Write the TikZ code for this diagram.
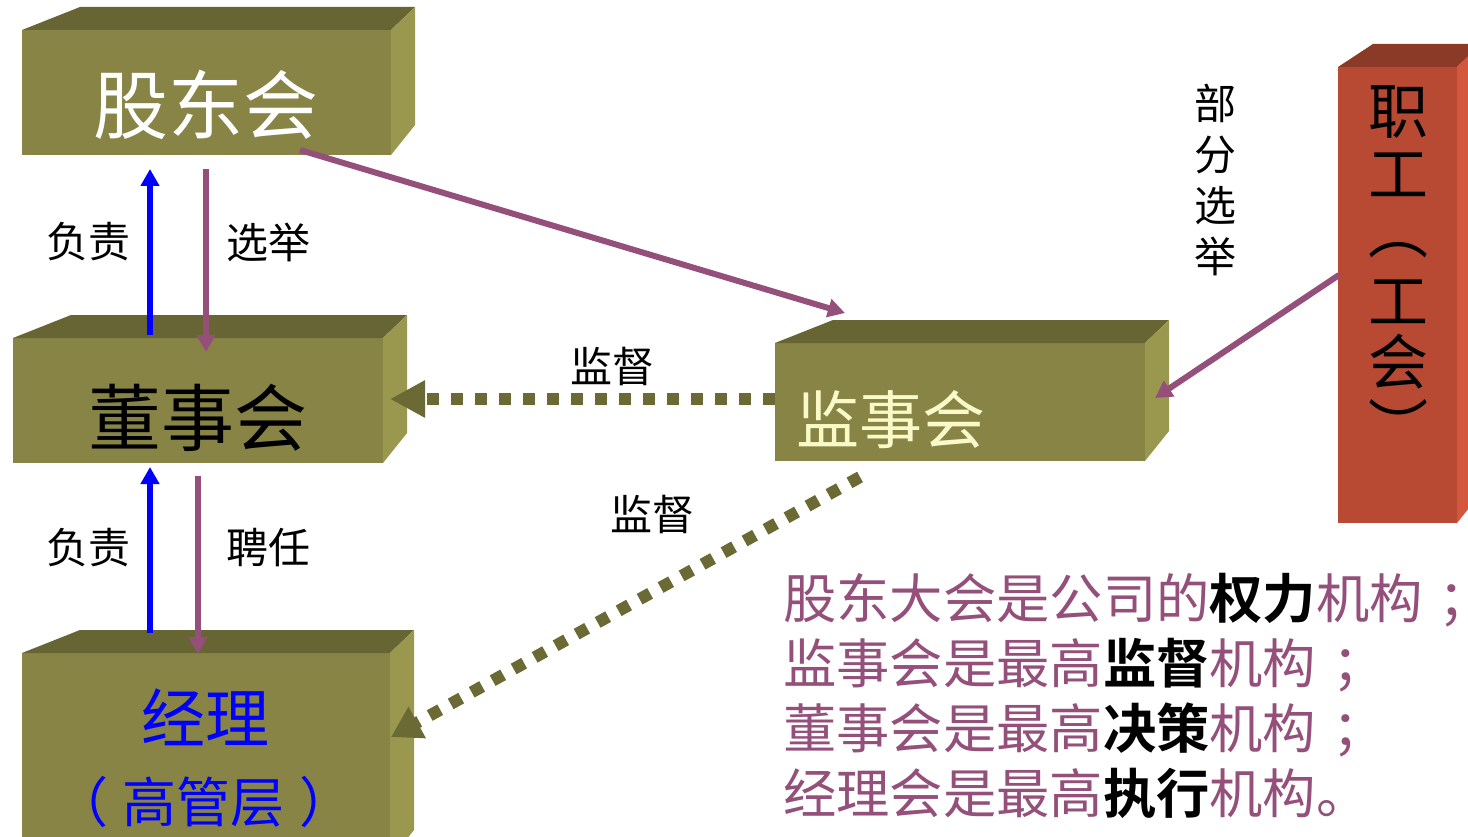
\documentclass[tikz,border=0pt]{standalone}
\usepackage{fontspec}
\setmainfont{Noto Sans CJK SC}[BoldFont={Noto Sans CJK SC Bold}]
\usetikzlibrary{arrows.meta,calc}
\definecolor{olfront}{HTML}{878446}
\definecolor{oltop}{HTML}{676534}
\definecolor{olside}{HTML}{9A984E}
\definecolor{rdfront}{HTML}{B84A34}
\definecolor{rdtop}{HTML}{8C3A28}
\definecolor{rdside}{HTML}{D4563C}
\definecolor{pur}{HTML}{94507A}
\definecolor{dotc}{HTML}{6B6A35}
\definecolor{lightyel}{HTML}{FAFAC8}
\newcommand\olcube[1]{%
  \fill[oltop] (#1.north west) -- ++(58,-23) -- ($(#1.north east)+(24,-23)$) -- (#1.north east) -- cycle;
  \fill[olside] (#1.north east) -- ++(24,-23) -- ($(#1.south east)+(24,-30)$) -- (#1.south east) -- cycle;}
\newcommand\semi{\hspace{0.3em}\makebox[0.4em][l]{；}}
\begin{document}
\begin{tikzpicture}[x=1pt,y=-1pt,
  face/.style={rectangle,inner sep=0pt,outer sep=0pt,draw=none},
  olface/.style={face,fill=olfront},
  lbl/.style={inner sep=0pt,font=\fontsize{42}{42}\selectfont},
  vch/.style={inner sep=0pt,font=\fontsize{60}{60}\selectfont},
  bluearrow/.style={draw=blue,line width=6pt,-{Triangle[length=17pt,width=18pt]}},
  purarrow/.style={draw=pur,line width=6pt,-{Triangle[length=17pt,width=18pt]}},
  dotarrow/.style={draw=dotc,line width=12pt,dash pattern=on 12pt off 12pt},
  stmt/.style={anchor=west,inner sep=0pt,text=pur,font=\fontsize{53.3}{53.3}\selectfont}]
\clip (0,0) rectangle (1468,837);
\fill[white] (0,0) rectangle (1468,837);
% boxes
\node[olface,minimum width=369pt,minimum height=125pt] (gd) at (206.5,92.5) {};
\olcube{gd}
\node[olface,minimum width=370pt,minimum height=125pt] (dsh) at (198,400.5) {};
\olcube{dsh}
\node[olface,minimum width=368pt,minimum height=207pt] (jl) at (206,756.5) {};
\olcube{jl}
\node[olface,minimum width=370pt,minimum height=118pt] (jsh) at (960,402) {};
\olcube{jsh}
\node[face,fill=rdfront,minimum width=119pt,minimum height=456pt] (zg) at (1397.5,295) {};
\fill[rdtop] (zg.north west) -- ++(35,-23) -- ($(zg.north east)+(24,-23)$) -- (zg.north east) -- cycle;
\fill[rdside] (zg.north east) -- ++(24,-23) -- ($(zg.south east)+(24,-30)$) -- (zg.south east) -- cycle;
% box texts
\node[inner sep=0pt,text=white,font=\fontsize{75}{75}\selectfont] (gdt) at (206,105) {股东会};
\node[inner sep=0pt,text=black,font=\fontsize{73}{73}\selectfont] (dsht) at (198,418) {董事会};
\node[inner sep=0pt,text=blue,font=\fontsize{64}{64}\selectfont] (jlt) at (205,717) {经理};
\node[inner sep=0pt,text=blue,font=\fontsize{54}{54}\selectfont] (jlt2) at (204,802) {（\hspace{15pt}高管层\hspace{15pt}）};
\node[inner sep=0pt,text=lightyel,font=\fontsize{63}{63}\selectfont] (jsht) at (891,420) {监事会};
\node[vch] (zg1) at (1398,112) {职};
\node[vch] (zg2) at (1398,175) {工};
\node[vch] (zg3) at (1398,250) {︵};
\node[vch] (zg4) at (1398,302) {工};
\node[vch] (zg5) at (1398,362) {会};
\node[vch] (zg6) at (1398,424) {︶};
% labels
\node[lbl] (l1) at (88,242) {负责};
\node[lbl] (l2) at (268,242) {选举};
\node[lbl] (l3) at (88,548) {负责};
\node[lbl] (l4) at (268,548) {聘任};
\node[lbl] (l5) at (612,366) {监督};
\node[lbl] (l6) at (652,514) {监督};
\node[lbl,align=center,font=\fontsize{42}{51}\selectfont] (l7) at (1215,180) {部\\分\\选\\举};
% arrows
\draw[bluearrow] ($(dsh.north west)+(137,-3)$) -- ($(gd.south west)+(128,14)$);
\draw[purarrow] ($(gd.south west)+(184,14)$) -- ($(dsh.north west)+(193,14)$);
\draw[bluearrow] ($(jl.north west)+(128,-20)$) -- ($(dsh.south west)+(137,4)$);
\draw[purarrow] ($(dsh.south west)+(185,13)$) -- ($(jl.north west)+(176,1)$);
\draw[purarrow] ($(gd.south west)+(278,-5)$) -- ($(jsh.north west)+(70,-30)$);
\draw[purarrow] ($(zg.west)+(1,-20)$) -- ($(jsh.east)+(10,-4)$);
\draw[dotarrow,-{Triangle[length=35pt,width=35pt]}] ($(jsh.west)+(0,-3)$) -- ($(dsh.east)+(7,-1.5)$);
\draw[dotarrow,-{Triangle[length=30pt,width=34pt]}] ($(jsh.south west)+(85,16)$) -- ($(jl.north east)+(1,84)$);
% statements
\node[stmt] (s1) at (783,600) {股东大会是公司的{\bfseries\color{black}权力}机构\semi};
\node[stmt] (s2) at (783,665) {监事会是最高{\bfseries\color{black}监督}机构\semi};
\node[stmt] (s3) at (783,730) {董事会是最高{\bfseries\color{black}决策}机构\semi};
\node[stmt] (s4) at (783,793) {经理会是最高{\bfseries\color{black}执行}机构。};
\end{tikzpicture}
\end{document}
